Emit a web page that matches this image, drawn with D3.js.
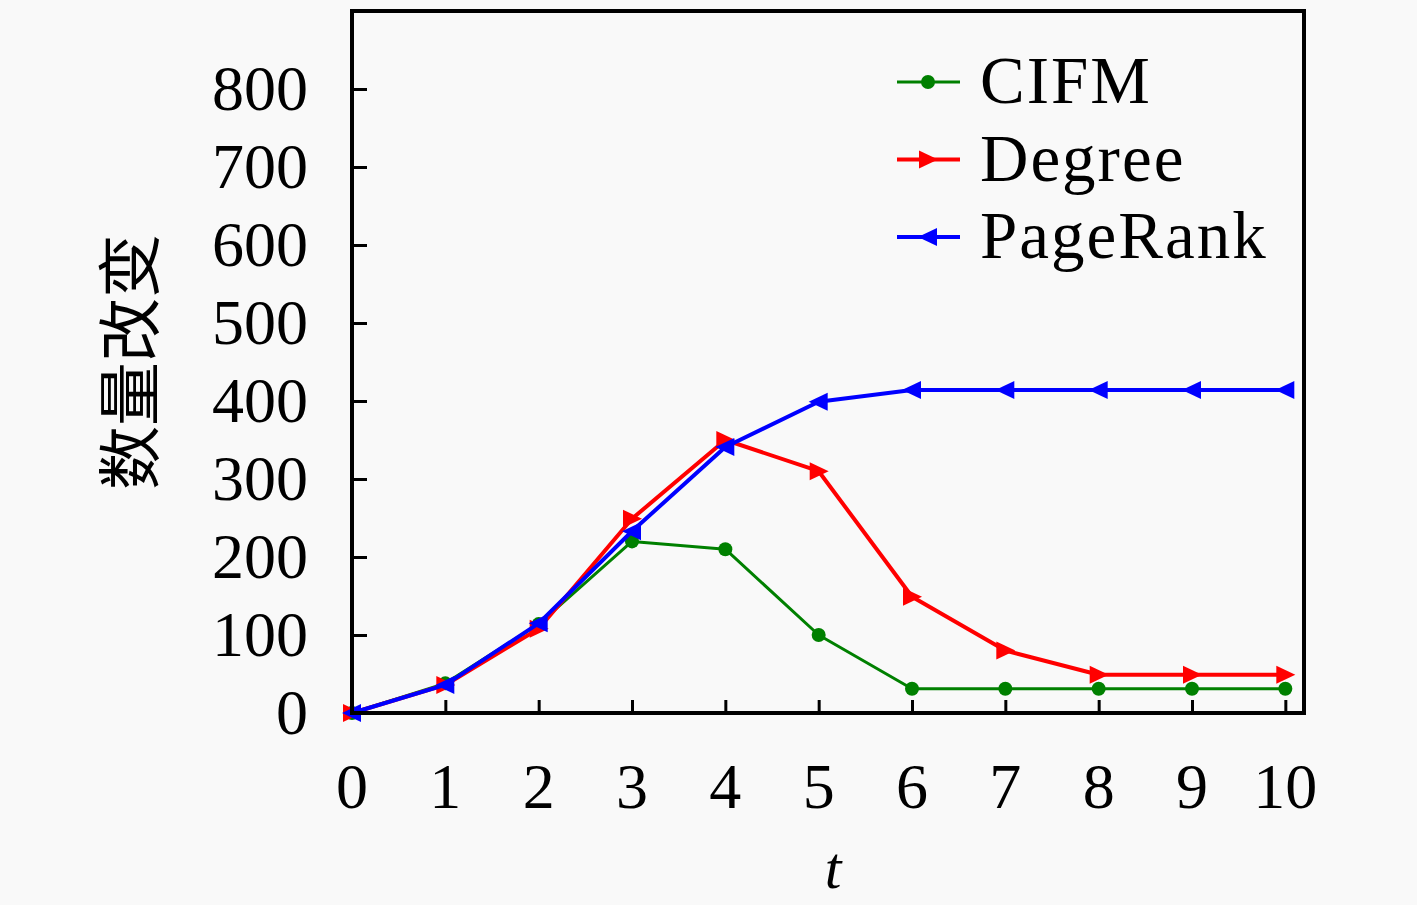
<!DOCTYPE html>
<html><head><meta charset="utf-8">
<script src="https://cdn.jsdelivr.net/npm/d3@7"></script>
<style>
html,body{margin:0;padding:0;background:#f9f9f9;}
svg{display:block;}
text{font-family:"Liberation Serif","DejaVu Serif",serif;fill:#000;}
</style></head>
<body>
<svg id="chart" width="1417" height="905"></svg>
<script>
const tValues = [0,1,2,3,4,5,6,7,8,9,10];
const cifm = [0,38,114,220,210,100,31,31,31,31,31];
const degree = [0,36,108,249,350,310,149,80,49,49,49];
const pagerank = [0,36,115,233,341,399,414,414,414,414,414];
const xTicks = [0,1,2,3,4,5,6,7,8,9,10];
const yTicks = [0,100,200,300,400,500,600,700,800];
const seriesNames = ["CIFM","Degree","PageRank"];
const seriesColors = ["#008000","#ff0000","#0000ff"];

const svg = d3.select("#chart");
const L=352, R=1304, T=11, B=713;
const x = d3.scaleLinear().domain([0,10.2]).range([L,R]);
const y = d3.scaleLinear().domain([0,900]).range([B,T]);

svg.append("rect").attr("width",1417).attr("height",905).attr("fill","#f9f9f9");

// ticks (inward)
const xAxis = d3.axisBottom(x).tickValues(xTicks).tickSize(-13).tickFormat("");
const gx = svg.append("g").attr("transform",`translate(0,${B})`).call(xAxis);
const yAxis = d3.axisLeft(y).tickValues(yTicks).tickSize(-15).tickFormat("");
const gy = svg.append("g").attr("transform",`translate(${L},0)`).call(yAxis);
[gx,gy].forEach(g=>{g.select(".domain").remove();g.selectAll(".tick line").attr("stroke","#000").attr("stroke-width",3);});

// tick labels
svg.append("g").selectAll("text").data(xTicks).join("text")
  .attr("x",d=>x(d)).attr("y",808).attr("text-anchor","middle")
  .attr("font-size",64).text(d=>d);
svg.append("g").selectAll("text").data(yTicks).join("text")
  .attr("x",308).attr("y",d=>y(d)+21).attr("text-anchor","end")
  .attr("font-size",64).text(d=>d);

// axis titles
svg.append("text").attr("x",833).attr("y",888).attr("text-anchor","middle")
  .attr("font-size",60).attr("font-style","italic").text("t");
svg.append("text").attr("transform","translate(153,362) rotate(-90)")
  .attr("text-anchor","middle").attr("font-size",64)
  .style("font-family",'"Noto Sans CJK SC",sans-serif').text("数量改变");

const line = d3.line().x((d,i)=>x(tValues[i])).y(d=>y(d));
const datasets=[cifm,degree,pagerank];
const widths=[3,4,4];

function marker(g,k,cx,cy){
  if(k===0){g.append("circle").attr("cx",cx).attr("cy",cy).attr("r",7).attr("fill",seriesColors[0]);}
  else if(k===1){g.append("path").attr("d",`M${cx+10},${cy}L${cx-9},${cy-9}L${cx-9},${cy+9}Z`).attr("fill",seriesColors[1]);}
  else {g.append("path").attr("d",`M${cx-10},${cy}L${cx+9},${cy-9}L${cx+9},${cy+9}Z`).attr("fill",seriesColors[2]);}
}

datasets.forEach((data,k)=>{
  const g=svg.append("g");
  g.append("path").datum(data).attr("d",line).attr("fill","none")
    .attr("stroke",seriesColors[k]).attr("stroke-width",widths[k]).attr("stroke-linejoin","round");
  data.forEach((d,i)=>marker(g,k,x(tValues[i]),y(d)));
});

// frame
svg.append("rect").attr("x",L).attr("y",T).attr("width",R-L).attr("height",B-T)
  .attr("fill","none").attr("stroke","#000").attr("stroke-width",4);

// legend
const lg=svg.append("g");
seriesNames.forEach((n,k)=>{
  const ly=82+k*77.5;
  lg.append("line").attr("x1",897).attr("x2",960).attr("y1",ly).attr("y2",ly)
    .attr("stroke",seriesColors[k]).attr("stroke-width",widths[k]);
  marker(lg,k,928,ly);
  lg.append("text").attr("x",980).attr("y",ly+21).attr("font-size",67)
    .attr("letter-spacing",2).text(n);
});
</script>
</body></html>
